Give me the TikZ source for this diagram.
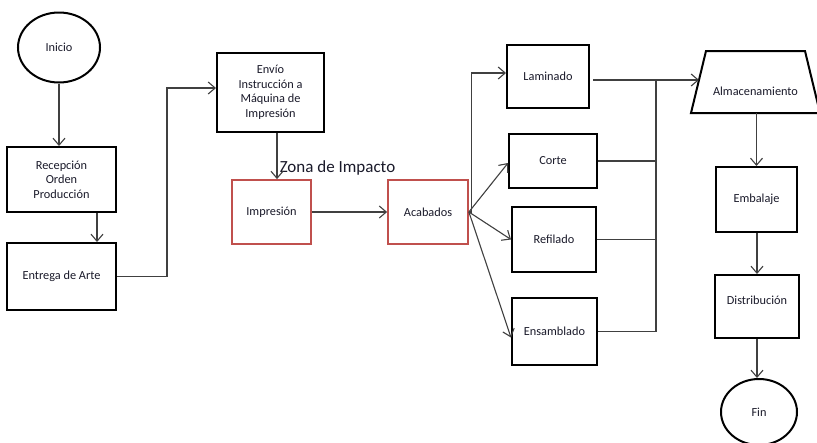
\documentclass[tikz,border=0pt]{standalone}
\usepackage{fontspec}
\setmainfont{Carlito}
\usetikzlibrary{shapes.geometric,arrows.meta}
\definecolor{linegray}{HTML}{404040}
\definecolor{impactred}{HTML}{C0504D}
\definecolor{labeltext}{HTML}{1A1A2A}
\begin{document}
\begin{tikzpicture}[x=1pt,y=1pt,
  box/.style={draw=black,line width=2pt,fill=white,inner sep=1pt,align=center,
    font=\fontsize{12.3}{14.5}\selectfont,text=labeltext},
  redbox/.style={box,draw=impactred,line width=1.8pt},
  terminal/.style={box,ellipse},
  plaintext/.style={inner sep=0pt,font=\fontsize{12.3}{14.5}\selectfont,text=labeltext},
  outline/.style={draw=black,line width=2pt,line join=miter},
  conn/.style={draw=linegray,line width=1.1pt},
  flow/.style={conn,-{Straight Barb[length=7pt,width=12pt,line width=1.1pt]}},
]
\useasboundingbox (0,0) rectangle (817,-442);
\fill[white] (0,0) rectangle (817,-442);

% left column
\node[terminal,minimum width=82pt,minimum height=70pt] (inicio) at (59,-47.5) {Inicio};
\node[box,minimum width=109pt,minimum height=65pt] (recep) at (61.5,-179.5) {Recepción\\Orden\\Producción};
\node[box,minimum width=109pt,minimum height=67pt] (entrega) at (61.5,-276.5) {Entrega de Arte};

% printing stage
\node[box,minimum width=107pt,minimum height=79pt] (envio) at (270.5,-92.5) {Envío\\Instrucción a\\Máquina de\\Impresión};
\node[redbox,minimum width=79pt,minimum height=64pt] (impr) at (271.5,-212) {Impresión};
\node[redbox,minimum width=80pt,minimum height=64pt] (acab) at (428,-212) {Acabados};
\node[font=\fontsize{17}{20}\selectfont,text=labeltext,inner sep=0pt] (zona) at (337.5,-168) {Zona de Impacto};

% finishing operations
\node[box,minimum width=82pt,minimum height=63pt] (lam) at (548,-76.5) {Laminado};
\node[box,minimum width=88pt,minimum height=54pt] (corte) at (553,-161) {Corte};
\node[box,minimum width=84pt,minimum height=65pt] (refil) at (554,-239.5) {Refilado};
\node[box,minimum width=85pt,minimum height=67pt] (ens) at (554.5,-331.5) {Ensamblado};

% right column: storage trapezoid around its centre point, label set low
\coordinate (almc) at (755.5,-82);
\draw[outline] ([shift={(-49.5pt,31pt)}]almc) -- ([shift={(49.5pt,31pt)}]almc)
  -- ([shift={(64.5pt,-31pt)}]almc) -- ([shift={(-64.5pt,-31pt)}]almc) -- cycle;
\node[plaintext] (alm) at (755.5,-91.5) {Almacenamiento};
\coordinate (almin) at ([shift={(-56.5pt,2pt)}]almc);
\coordinate (almout) at ([shift={(1pt,-31pt)}]almc);
\node[box,minimum width=81pt,minimum height=65pt] (emb) at (756.5,-199.5) {\raisebox{-4pt}{Embalaje}};
\node[box,minimum width=84pt,minimum height=63pt] (distrib) at (757,-306.5) {\raisebox{12pt}{Distribución}};
\node[terminal,minimum width=76pt,minimum height=66pt] (fin) at (759,-412) {Fin};

% bus collecting the finishing operations
\coordinate (bustop) at (656,-80);
\coordinate (busbot) at (656,-332);

% connectors
\draw[flow] (inicio.south) -- (inicio.south |- recep.north);
\draw[flow] ([xshift=35.5pt]recep.south) -- ([xshift=35.5pt]entrega.north);
\draw[flow] (entrega.east) -- ++(50,0) |- ([yshift=4.5pt]envio.west);
\draw[flow] ([xshift=6.5pt]envio.south) -- ([xshift=5.5pt]impr.north);
\draw[flow] (impr) -- (acab);

\draw[flow] (acab.east) -- ++(3,0) |- ([yshift=3.5pt]lam.west);
\draw[flow] (acab.east) -- ([yshift=-2pt]corte.west);
\draw[flow] (acab.east) -- (refil.west);
\draw[flow] (acab.east) -- ([yshift=-6pt]ens.west);

\draw[conn] ([yshift=-3.5pt,xshift=3pt]lam.east) -- (bustop);
\draw[flow] (bustop) -- (almin);
\draw[conn] (bustop) -- (busbot);
\draw[conn] (corte.east) -- (corte.east -| bustop);
\draw[conn] (refil.east) -- (refil.east -| bustop);
\draw[conn] (ens.east) -- (ens.east -| bustop);

\draw[flow] (almout) -- (almout |- emb.north);
\draw[flow] (emb.south -| distrib.north) -- (distrib.north);
\draw[flow] (distrib.south) -- (distrib.south |- fin.north);
\end{tikzpicture}
\end{document}
